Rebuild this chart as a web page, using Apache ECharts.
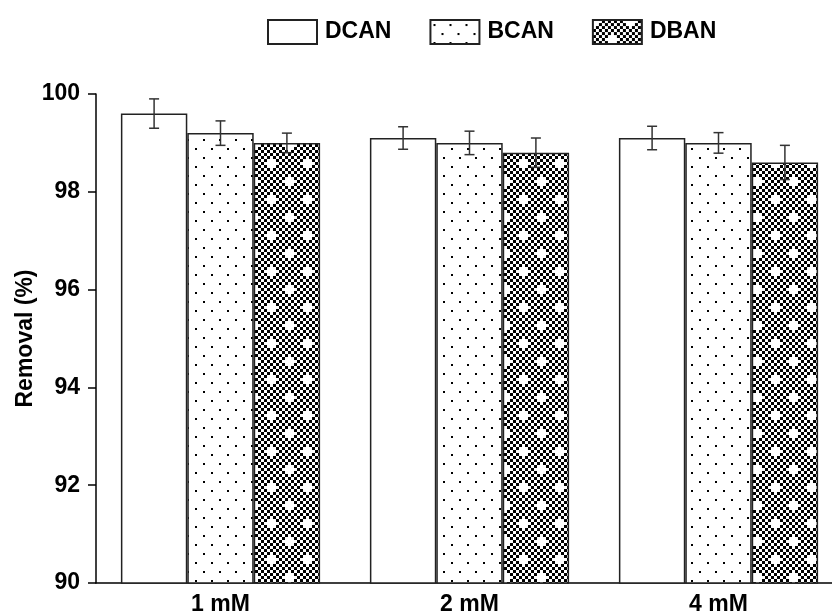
<!DOCTYPE html>
<html>
<head>
<meta charset="utf-8">
<script src="https://cdn.jsdelivr.net/npm/echarts@6/dist/echarts.min.js"></script>
<style>
  html, body { margin: 0; padding: 0; background: #fff; }
  #chart { width: 832px; height: 615px; }
</style>
</head>
<body>
<div id="chart"></div>
<script>
// Removal efficiency at three concentrations
const categories = ['1 mM', '2 mM', '4 mM'];
const seriesNames = ['DCAN', 'BCAN', 'DBAN'];
const dcanValues = [99.6, 99.1, 99.1];
const dcanErrors = [0.30, 0.23, 0.24];
const bcanValues = [99.2, 99.0, 99.0];
const bcanErrors = [0.25, 0.24, 0.21];
const dbanValues = [99.0, 98.8, 98.6];
const dbanErrors = [0.20, 0.30, 0.35];
const yTicks = [90, 92, 94, 96, 98, 100];

const FONT = "'Liberation Sans', Arial, sans-serif";

// Sparse staggered dot fill
function dotPattern() {
  const c = document.createElement('canvas');
  c.width = 16; c.height = 18;
  const g = c.getContext('2d');
  g.fillStyle = '#fff'; g.fillRect(0, 0, 16, 18);
  g.fillStyle = '#000';
  g.fillRect(3, 4, 2, 2);
  g.fillRect(11, 13, 2, 2);
  return c;
}

// Fine checkerboard with scattered white plus marks
function checkerPattern() {
  const cell = 3, n = 12;
  const c = document.createElement('canvas');
  c.width = cell * n; c.height = cell * n;
  const g = c.getContext('2d');
  const white = new Set();
  [[0, 0], [6, 6]].forEach(([cx, cy]) => {
    [[0, 0], [1, 0], [-1, 0], [0, 1], [0, -1]].forEach(([dx, dy]) => {
      white.add(((cx + dx + n) % n) + ',' + ((cy + dy + n) % n));
    });
  });
  for (let i = 0; i < n; i++) {
    for (let j = 0; j < n; j++) {
      const black = (i + j) % 2 === 1 && !white.has(i + ',' + j);
      g.fillStyle = black ? '#000' : '#fff';
      g.fillRect(i * cell, j * cell, cell, cell);
    }
  }
  return c;
}

const fills = [
  '#ffffff',
  { image: dotPattern(), repeat: 'repeat' },
  { image: checkerPattern(), repeat: 'repeat' }
];
const valueSets = [dcanValues, bcanValues, dbanValues];
const errorSets = [dcanErrors, bcanErrors, dbanErrors];

const barSeries = seriesNames.map((name, k) => ({
  name: name,
  type: 'bar',
  data: valueSets[k],
  barGap: '0%',
  barCategoryGap: '20%',
  itemStyle: { color: fills[k], borderColor: '#222', borderWidth: 1.5 },
  z: 2
}));

// Error bars drawn over each bar centre
const errorSeries = seriesNames.map((name, k) => ({
  name: name + ' error',
  type: 'custom',
  z: 5,
  silent: true,
  data: valueSets[k].map((v, i) => [i, v - errorSets[k][i], v + errorSets[k][i]]),
  renderItem: function (params, api) {
    const i = api.value(0);
    const lo = api.coord([i, api.value(1)]);
    const hi = api.coord([i, api.value(2)]);
    const bandW = api.size([1, 0])[0];
    const barW = bandW * 0.8 / 3;
    const x = lo[0] + (k - 1) * barW;
    const cap = 5;
    const style = { stroke: '#333', lineWidth: 1.5, fill: null };
    return {
      type: 'group',
      children: [
        { type: 'line', shape: { x1: x, y1: lo[1], x2: x, y2: hi[1] }, style: style },
        { type: 'line', shape: { x1: x - cap, y1: hi[1], x2: x + cap, y2: hi[1] }, style: style },
        { type: 'line', shape: { x1: x - cap, y1: lo[1], x2: x + cap, y2: lo[1] }, style: style }
      ]
    };
  }
}));

const chart = echarts.init(document.getElementById('chart'), null, { renderer: 'canvas' });
chart.setOption({
  animation: false,
  backgroundColor: '#fff',
  textStyle: { fontFamily: FONT },
  legend: {
    data: seriesNames.map(n => ({ name: n, icon: 'rect' })),
    left: 262,
    top: 14,
    itemWidth: 49,
    itemHeight: 24,
    itemGap: 38,
    textStyle: { fontFamily: FONT, fontSize: 23, fontWeight: 'bold', color: '#000', padding: [0, 0, 0, 3] }
  },
  grid: { left: 96, top: 94, width: 747, height: 489, outerBoundsMode: 'none', containLabel: false },
  xAxis: {
    type: 'category',
    data: categories,
    axisLine: { lineStyle: { color: '#000', width: 1.5 } },
    axisTick: { show: false },
    axisLabel: { fontFamily: FONT, fontSize: 23, fontWeight: 'bold', color: '#000', margin: 10 }
  },
  yAxis: {
    type: 'value',
    min: yTicks[0],
    max: yTicks[yTicks.length - 1],
    interval: 2,
    name: 'Removal (%)',
    nameLocation: 'middle',
    nameGap: 59,
    nameMoveOverlap: false,
    nameTextStyle: { fontFamily: FONT, fontSize: 23, fontWeight: 'bold', color: '#000' },
    axisLine: { show: true, lineStyle: { color: '#000', width: 1.5 } },
    axisTick: { show: true, length: 8, lineStyle: { color: '#000', width: 1.5 } },
    axisLabel: { fontFamily: FONT, fontSize: 23, fontWeight: 'bold', color: '#000', margin: 16 },
    splitLine: { show: false }
  },
  series: barSeries.concat(errorSeries)
});
</script>
</body>
</html>
